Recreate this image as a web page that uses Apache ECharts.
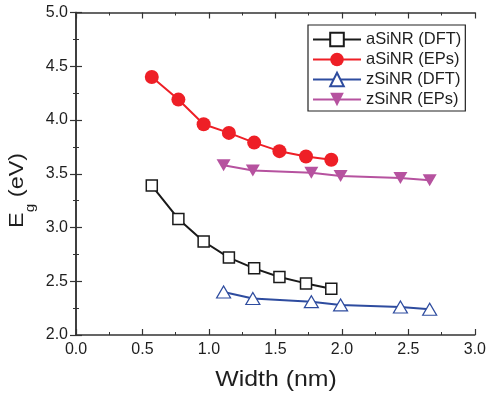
<!DOCTYPE html>
<html>
<head>
<meta charset="utf-8">
<script src="https://cdn.jsdelivr.net/npm/echarts@6/dist/echarts.min.js"></script>
<style>
  html, body { margin: 0; padding: 0; background: #fff; }
  #chart { width: 489px; height: 403px; }
</style>
</head>
<body>
<div id="chart"></div>
<script>
// Band gap vs ribbon width for armchair / zigzag silicene nanoribbons
const aWidth = [0.57, 0.77, 0.96, 1.15, 1.34, 1.53, 1.73, 1.92];
const aDFT = [3.39, 3.08, 2.87, 2.72, 2.62, 2.54, 2.48, 2.43];
const aEPs = [4.40, 4.19, 3.96, 3.88, 3.79, 3.71, 3.66, 3.63];

const zWidth = [1.11, 1.33, 1.77, 1.99, 2.44, 2.66];
const zDFT = [2.40, 2.34, 2.31, 2.28, 2.26, 2.24];
const zEPs = [3.58, 3.53, 3.51, 3.48, 3.46, 3.44];

const seriesNames = ['aSiNR (DFT)', 'aSiNR (EPs)', 'zSiNR (DFT)', 'zSiNR (EPs)'];
const xTicks = { min: 0, max: 3, interval: 0.5 };
const yTicks = { min: 2, max: 5, interval: 0.5 };

const FONT = '"Liberation Sans", Arial, sans-serif';
const AXIS_COLOR = '#333';
const TEXT_COLOR = '#1e1e1e';

function pairs(xs, ys) { return xs.map((x, i) => [x, ys[i]]); }

const chart = echarts.init(document.getElementById('chart'), null, { renderer: 'canvas' });

const tickCommon = {
  axisLine: { show: true, lineStyle: { color: AXIS_COLOR, width: 1.5 } },
  axisTick: { show: true, inside: true, length: 6, lineStyle: { color: AXIS_COLOR, width: 1.2 } },
  minorTick: { show: true, splitNumber: 2, length: 3, lineStyle: { color: AXIS_COLOR, width: 1 } },
  splitLine: { show: false }
};

chart.setOption({
  animation: false,
  backgroundColor: '#fff',
  textStyle: { fontFamily: FONT },
  grid: { left: 76, right: 11, top: 12.5, bottom: 68, containLabel: false },
  legend: {
    left: 308, top: 25,
    orient: 'vertical',
    itemWidth: 48, itemHeight: 17, itemGap: 3,
    padding: [6, 4, 3, 4],
    borderColor: '#222', borderWidth: 1.2,
    textStyle: { fontFamily: FONT, fontSize: 16.5, color: TEXT_COLOR },
    data: seriesNames
  },
  xAxis: [
    Object.assign({
      type: 'value', position: 'bottom',
      min: xTicks.min, max: xTicks.max, interval: xTicks.interval,
      axisLabel: { fontFamily: FONT, fontSize: 16, color: TEXT_COLOR, margin: 7, formatter: v => v.toFixed(1) }
    }, tickCommon),
    Object.assign({
      type: 'value', position: 'top',
      min: xTicks.min, max: xTicks.max, interval: xTicks.interval,
      axisLabel: { show: false }
    }, tickCommon)
  ],
  yAxis: [
    Object.assign({
      type: 'value', position: 'left',
      min: yTicks.min, max: yTicks.max, interval: yTicks.interval,
      axisLabel: { fontFamily: FONT, fontSize: 16, color: TEXT_COLOR, margin: 8, formatter: v => v.toFixed(1) }
    }, tickCommon),
    Object.assign({
      type: 'value', position: 'right',
      min: yTicks.min, max: yTicks.max, interval: yTicks.interval,
      axisLabel: { show: false }
    }, tickCommon)
  ],
  graphic: [
    // x-axis title
    {
      type: 'text', x: 276, y: 380, scaleX: 1.13,
      style: { text: 'Width (nm)', font: '22px ' + FONT, fill: TEXT_COLOR, align: 'center', verticalAlign: 'middle' }
    },
    // y-axis title: E with subscript g, reading bottom to top
    {
      type: 'group', x: 17, y: 228, rotation: Math.PI / 2, scaleX: 1.17,
      children: [
        { type: 'text', x: 0, y: 0,
          style: { text: 'E', font: '20px ' + FONT, fill: TEXT_COLOR, align: 'left', verticalAlign: 'middle' } },
        { type: 'text', x: 13.5, y: 13,
          style: { text: 'g', font: '13px ' + FONT, fill: TEXT_COLOR, align: 'left', verticalAlign: 'middle' } },
        { type: 'text', x: 20.8, y: 0,
          style: { text: ' (eV)', font: '20px ' + FONT, fill: TEXT_COLOR, align: 'left', verticalAlign: 'middle' } }
      ]
    }
  ],
  series: [
    {
      name: seriesNames[0], type: 'line', data: pairs(aWidth, aDFT),
      symbol: 'rect', symbolSize: 11,
      lineStyle: { color: '#1a1a1a', width: 2 },
      itemStyle: { color: '#fff', borderColor: '#1a1a1a', borderWidth: 1.5 },
      z: 3
    },
    {
      name: seriesNames[1], type: 'line', data: pairs(aWidth, aEPs),
      symbol: 'circle', symbolSize: 14,
      lineStyle: { color: '#ee1f26', width: 2 },
      itemStyle: { color: '#ee1f26', borderColor: '#ee1f26', borderWidth: 0 },
      z: 3
    },
    {
      name: seriesNames[2], type: 'line', data: pairs(zWidth, zDFT),
      symbol: 'triangle', symbolSize: [14, 12],
      lineStyle: { color: '#2e4c9f', width: 2 },
      itemStyle: { color: '#fff', borderColor: '#2e4c9f', borderWidth: 1.2 },
      z: 3
    },
    {
      name: seriesNames[3], type: 'line', data: pairs(zWidth, zEPs),
      symbol: 'triangle', symbolRotate: 180, symbolSize: [14, 12],
      lineStyle: { color: '#b6529f', width: 2 },
      itemStyle: { color: '#b6529f', borderColor: '#b6529f', borderWidth: 0 },
      z: 3
    }
  ]
});
</script>
</body>
</html>
